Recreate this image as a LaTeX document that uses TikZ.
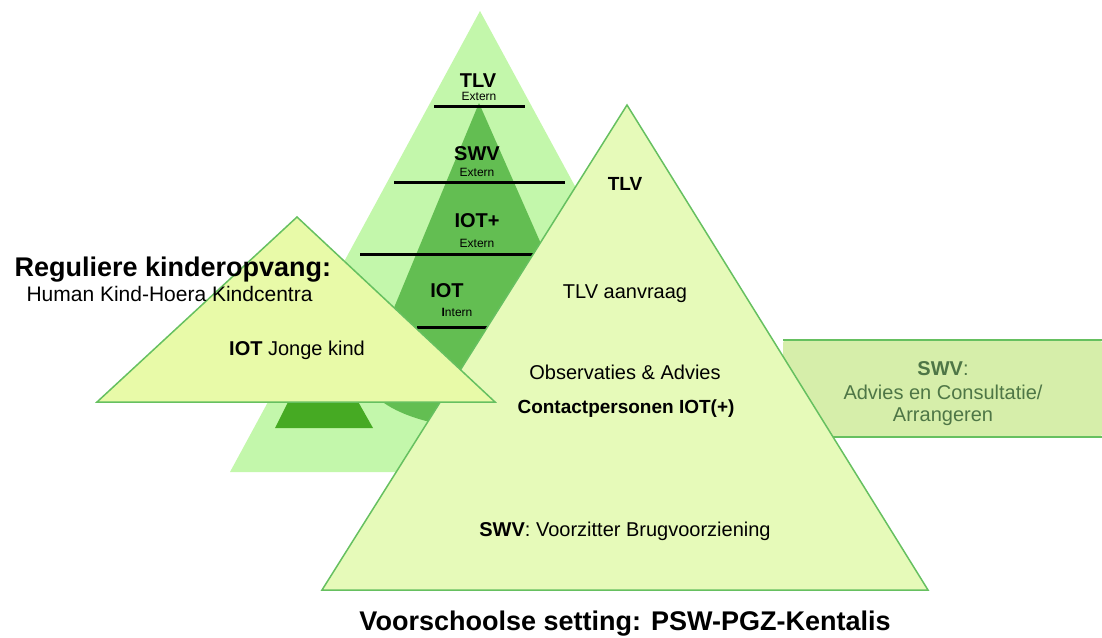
\documentclass[tikz,border=0pt]{standalone}
\usepackage{fontspec}
\setmainfont{Liberation Sans}
\definecolor{backgreen}{HTML}{C3F7AB}
\definecolor{midgreen}{HTML}{63BE52}
\definecolor{darkgreen}{HTML}{46AA23}
\definecolor{lefttri}{HTML}{E8FAA8}
\definecolor{righttri}{HTML}{E6FAB9}
\definecolor{bannerfill}{HTML}{D6EEAA}
\definecolor{edgegreen}{HTML}{66C060}
\definecolor{bannertext}{HTML}{4E7646}
\newcommand{\fsz}[1]{\fontsize{#1}{#1}\selectfont}

\begin{document}
\begin{tikzpicture}[x=1pt, y=-1pt,
			levelline/.style={line width=3pt},
			levelhead/.style={font=\fsz{20}\bfseries, anchor=base},
			levelsub/.style={font=\fsz{12}, anchor=base},
			bodytext/.style={font=\fsz{20}, anchor=base},
			titletext/.style={font=\fsz{27}\bfseries, anchor=base},
			pyramid/.style={draw=edgegreen, line width=1.5pt}]
			\useasboundingbox (0,0) rectangle (1102,637);
			% achterste piramide
			\fill[backgreen] (480,11) -- (730,472) -- (230,472) -- cycle;
			\fill[midgreen] (479,103) -- (364,380) .. controls (372,400) and (400,418) .. (450,426) -- (623,430) -- cycle;
			\fill[darkgreen] (290,398) -- (356,398) -- (373,428) -- (275,428) -- cycle;
			\draw[levelline] (434,106) -- (525,106);
			\draw[levelline] (394,182) -- (565,182);
			\draw[levelline] (360,254) -- (560,254);
			\draw[levelline] (417,327) -- (500,327);
			\node[levelhead] (tlvback) at (478,87) {TLV};
			\node[levelsub] (tlvsub) at (479,100) {Extern};
			\node[levelhead] (swvback) at (477,160) {SWV};
			\node[levelsub] (swvsub) at (477,176) {Extern};
			\node[levelhead] (iotplus) at (477,227) {IOT+};
			\node[levelsub] (iotplussub) at (477,247) {Extern};
			\node[levelhead] (iotback) at (447,297) {IOT};
			\node[levelsub] (iotsub) at (457,316) {\textbf{I}ntern};
			% zijbalk SWV
			\fill[bannerfill, rounded corners=3pt] (783,340) rectangle (1102,437);
			\draw[edgegreen, line width=1.5pt] (783,340) -- (1102,340);
			\draw[edgegreen, line width=1.5pt] (800,437) -- (1102,437);
			\node[bodytext, text=bannertext] (swvbanner) at (943,375) {\textbf{SWV}:};
			\node[bodytext, text=bannertext] (advies) at (943,399) {Advies en Consultatie/};
			\node[bodytext, text=bannertext] (arrangeren) at (943,421) {Arrangeren};
			% voorschoolse piramide
			\filldraw[pyramid, fill=righttri] (627,105) -- (928,590) -- (322,590) -- cycle;
			% reguliere kinderopvang
			\filldraw[pyramid, fill=lefttri] (297,217) -- (495,402) -- (97,402) -- cycle;
			\node[titletext, anchor=base west] (regulier) at (11,276) {Reguliere kinderopvang:};
			\node[font=\fsz{21}, anchor=base west] (humankind) at (23,301) {Human Kind-Hoera Kindcentra};
			\node[bodytext] (jongekind) at (297,355) {\textbf{IOT} Jonge kind};
			\node[levelhead, font=\fsz{19}\bfseries] (tlvfront) at (625,190) {TLV};
			\node[bodytext] (aanvraag) at (625,298) {TLV aanvraag};
			\node[bodytext] (observaties) at (625,379) {Observaties \& Advies};
			\node[levelhead, font=\fsz{19}\bfseries] (contact) at (626,413) {Contactpersonen IOT(+)};
			\node[bodytext] (voorzitter) at (625,536) {\textbf{SWV}: Voorzitter Brugvoorziening};
			\node[titletext] (voorschools) at (625,630) {Voorschoolse setting: PSW-PGZ-Kentalis};
		\end{tikzpicture}
\end{document}
